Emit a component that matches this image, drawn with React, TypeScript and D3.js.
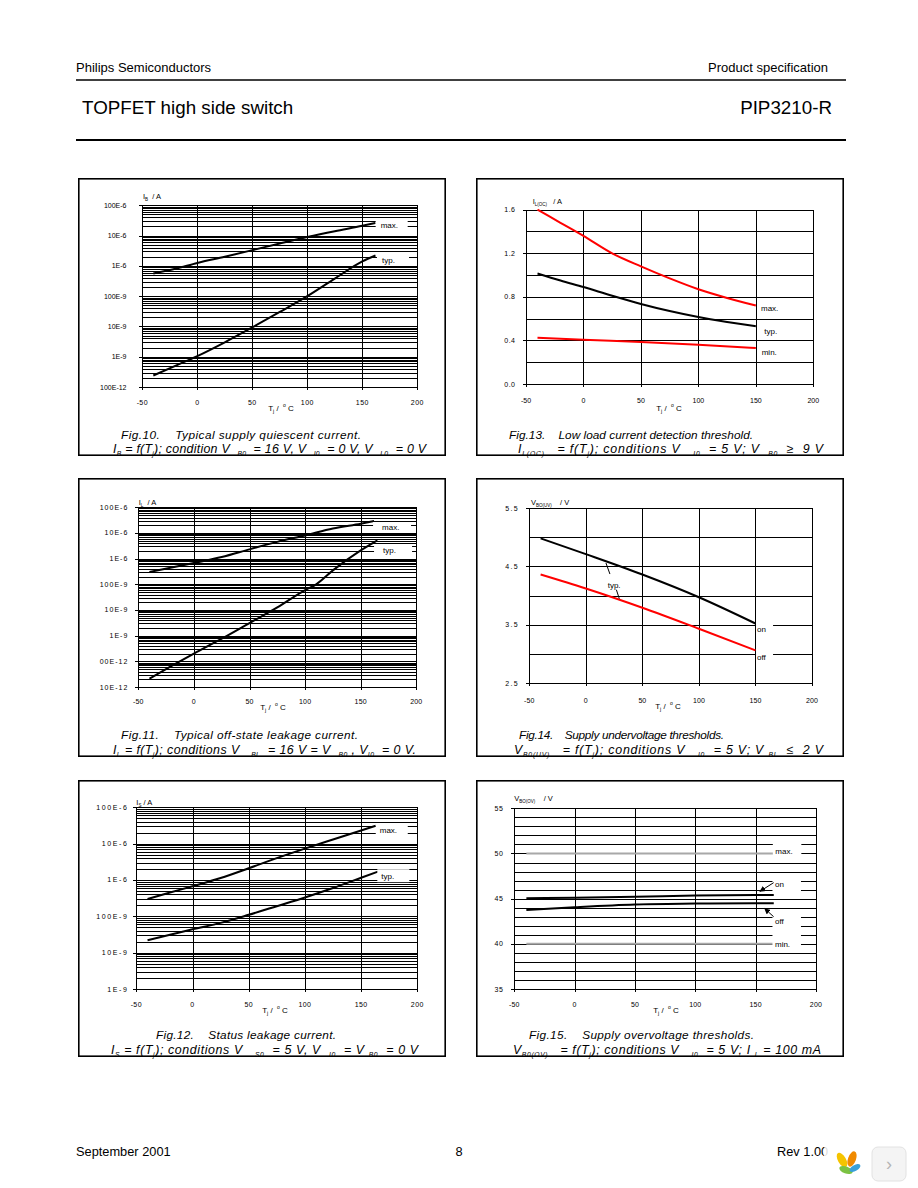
import React from "react";
import * as d3 from "d3";

const FONT = "'Liberation Sans', Arial, Helvetica, sans-serif";

// ---------- shared axis data ----------
const tempTicks = [-50, 0, 50, 100, 150, 200];
const tempTickLabels = ["-50", "0", "50", "100", "150", "200"];

// ---------- Fig.10 supply quiescent current ----------
const fig10Temp = [-40, -20, 0, 25, 50, 75, 100, 125, 150, 162];
const fig10Max = [5.6e-7, 8e-7, 1.25e-6, 2e-6, 3.3e-6, 5.5e-6, 9e-6, 1.4e-5, 2.1e-5, 2.6e-5];
const fig10Typ = [2.4e-10, 5e-10, 1.05e-9, 3e-9, 9.3e-9, 3e-8, 1e-7, 3.8e-7, 1.4e-6, 2.2e-6];
const fig10Decades = [1e-10, 1e-9, 1e-8, 1e-7, 1e-6, 1e-5, 1e-4];
const fig10DecadeLabels = ["100E-12", "1E-9", "10E-9", "100E-9", "1E-6", "10E-6", "100E-6"];

// ---------- Fig.11 off-state leakage current ----------
const fig11MaxTemp = [-40, -20, 0, 25, 50, 75, 100, 125, 150, 162];
const fig11Max = [3e-7, 4.5e-7, 6.8e-7, 1.15e-6, 2.3e-6, 4.5e-6, 8e-6, 1.5e-5, 2.3e-5, 2.9e-5];
const fig11TypTemp = [-40, -20, 0, 25, 50, 75, 100, 110, 125, 150, 165];
const fig11Typ = [2.1e-11, 6.6e-11, 2e-10, 7.6e-10, 3.1e-9, 1.26e-8, 6e-8, 1e-7, 3.5e-7, 2.1e-6, 5.2e-6];
const fig11Decades = [1e-11, 1e-10, 1e-9, 1e-8, 1e-7, 1e-6, 1e-5, 1e-4];
const fig11DecadeLabels = ["10E-12", "00E-12", "1E-9", "10E-9", "100E-9", "1E-6", "10E-6", "100E-6"];

// ---------- Fig.12 status leakage current ----------
const fig12MaxTemp = [-40, -20, 0, 25, 50, 75, 100, 125, 150, 163];
const fig12Max = [3e-7, 4.5e-7, 6.7e-7, 1.13e-6, 2.1e-6, 4e-6, 7.3e-6, 1.3e-5, 2.3e-5, 3.1e-5];
const fig12TypTemp = [-40, -20, 0, 25, 50, 75, 100, 125, 150, 165];
const fig12Typ = [2.2e-8, 3.1e-8, 4.4e-8, 6.6e-8, 1.1e-7, 1.9e-7, 3.3e-7, 6e-7, 1.15e-6, 1.7e-6];
const fig12Decades = [1e-9, 1e-8, 1e-7, 1e-6, 1e-5, 1e-4];
const fig12DecadeLabels = ["1E-9", "10E-9", "100E-9", "1E-6", "10E-6", "100E-6"];

// ---------- Fig.13 low load current detection threshold ----------
const fig13Temp = [-40, -20, 0, 25, 50, 75, 100, 125, 150];
const fig13Max = [1.6, 1.48, 1.36, 1.2, 1.08, 0.97, 0.87, 0.79, 0.72];
const fig13Typ = [1.015, 0.95, 0.89, 0.81, 0.735, 0.67, 0.615, 0.57, 0.53];
const fig13MinTemp = [-40, 0, 50, 100, 150];
const fig13Min = [0.425, 0.406, 0.385, 0.36, 0.33];
const fig13Grid = [0, 0.2, 0.4, 0.6, 0.8, 1.0, 1.2, 1.4, 1.6];
const fig13Ticks = [0, 0.4, 0.8, 1.2, 1.6];
const fig13TickLabels = ["0.0", "0.4", "0.8", "1.2", "1.6"];

// ---------- Fig.14 supply undervoltage thresholds ----------
const fig14Temp = [-40, 0, 50, 100, 150];
const fig14On = [4.98, 4.71, 4.36, 3.97, 3.52];
const fig14Off = [4.36, 4.12, 3.79, 3.43, 3.06];
const fig14Grid = [2.5, 3, 3.5, 4, 4.5, 5, 5.5];
const fig14Ticks = [2.5, 3.5, 4.5, 5.5];
const fig14TickLabels = ["2.5", "3.5", "4.5", "5.5"];

// ---------- Fig.15 supply overvoltage thresholds ----------
const fig15Temp = [-40, 0, 50, 100, 150, 165];
const fig15On = [45.05, 45.1, 45.2, 45.35, 45.4, 45.4];
const fig15Off = [43.75, 44.05, 44.35, 44.45, 44.5, 44.5];
const fig15LimTemp = [-40, 165];
const fig15Max = [50, 50];
const fig15Min = [40, 40];
const fig15Grid = d3.range(35, 56, 1);
const fig15Ticks = [35, 40, 45, 50, 55];
const fig15TickLabels = ["35", "40", "45", "50", "55"];

// ---------- helpers ----------
type Seg = { t: string; s?: "sub" | "sup" };

function logGrid(decades: number[]): number[] {
  const out: number[] = [];
  for (let i = 0; i < decades.length - 1; i++) {
    for (let k = 1; k <= 9; k++) out.push(k * decades[i]);
  }
  out.push(decades[decades.length - 1]);
  return out;
}

function segSpans(segs: Seg[], fs: number, subFs: number) {
  let shift = 0;
  return segs.map((s, i) => {
    const target = s.s === "sub" ? fs * 0.28 : s.s === "sup" ? -fs * 0.45 : 0;
    const dy = target - shift;
    shift = target;
    return (
      <tspan key={i} dy={dy} fontSize={s.s ? subFs : fs}>
        {s.t}
      </tspan>
    );
  });
}

function zip(t: number[], v: number[]): [number, number][] {
  return t.map((d, i) => [d, v[i]] as [number, number]);
}

interface Series { t: number[]; v: number[]; color: string; w: number }
interface Lbl { text: string; t: number; v: number; bx: number; bw: number; bh: number }
interface Lead { t1: number; v1: number; t2: number; v2: number; arrow?: boolean }
interface Cap { segs: Seg[]; x: number; y: number; len: number }

interface Cfg {
  box: [number, number, number, number];
  plot: { l: number; r: number; t: number; b: number };
  log: boolean;
  yDomain: [number, number];
  yGrid: number[];
  yTicks: number[];
  yTickLabels: string[];
  yLabelRight: number;
  yLs: number;
  xLs: number;
  xLabelY: number;
  series: Series[];
  labels: Lbl[];
  leads?: Lead[];
  yTitle: { segs: Seg[]; x: number; y: number };
  xTitle: { x: number; y: number };
  captions: Cap[];
}

const xTitleSegs: Seg[] = [
  { t: "T" },
  { t: "j", s: "sub" },
  { t: " /  " },
  { t: "o", s: "sup" },
  { t: " C" },
];

function Chart({ cfg }: { cfg: Cfg }) {
  const { plot } = cfg;
  const x = d3.scaleLinear().domain([-50, 200]).range([plot.l, plot.r]);
  const y = cfg.log
    ? d3.scaleLog().domain(cfg.yDomain).range([plot.b, plot.t])
    : d3.scaleLinear().domain(cfg.yDomain).range([plot.b, plot.t]);
  const line = d3
    .line<[number, number]>()
    .x((d) => x(d[0]))
    .y((d) => y(d[1]))
    .curve(d3.curveMonotoneX);
  const snap = (v: number) => Math.round(v) + 0.5;
  const [bx0, by0, bx1, by1] = cfg.box;
  return (
    <g>
      <rect x={bx0 + 0.8} y={by0 + 0.8} width={bx1 - bx0 - 1.6} height={by1 - by0 - 1.6} fill="#fff" stroke="#000" strokeWidth={1.6} />
      <g shapeRendering="crispEdges" stroke="#000" strokeWidth={1}>
        {cfg.yGrid.map((g, i) => (
          <line key={"h" + i} x1={plot.l} x2={plot.r} y1={snap(y(g))} y2={snap(y(g))} />
        ))}
        {tempTicks.map((t, i) => (
          <line key={"v" + i} x1={snap(x(t))} x2={snap(x(t))} y1={plot.t} y2={plot.b} />
        ))}
        {cfg.yTicks.map((g, i) => (
          <line key={"yt" + i} x1={plot.l - 3} x2={plot.l} y1={snap(y(g))} y2={snap(y(g))} />
        ))}
        {tempTicks.map((t, i) => (
          <line key={"xt" + i} x1={snap(x(t))} x2={snap(x(t))} y1={plot.b} y2={plot.b + 3} />
        ))}
      </g>
      <g fontFamily={FONT} fontSize={7} fill="#000">
        {cfg.yTicks.map((g, i) => (
          <text key={"yl" + i} x={cfg.yLabelRight} y={y(g) + 2.5} textAnchor="end" style={{ letterSpacing: cfg.yLs + "px" }}>
            {cfg.yTickLabels[i]}
          </text>
        ))}
        {tempTicks.map((t, i) => (
          <text key={"xl" + i} x={x(t)} y={cfg.xLabelY + 2.5} textAnchor="middle" style={{ letterSpacing: cfg.xLs + "px" }}>
            {tempTickLabels[i]}
          </text>
        ))}
      </g>
      {cfg.series.map((s, i) => (
        <path key={"s" + i} d={line(zip(s.t, s.v)) || ""} fill="none" stroke={s.color} strokeWidth={s.w} strokeLinejoin="round" />
      ))}
      {cfg.labels.map((l, i) => {
        const lx = x(l.t);
        const ly = y(l.v);
        return (
          <g key={"lb" + i}>
            <rect x={lx + l.bx} y={ly - l.bh / 2} width={l.bw} height={l.bh} fill="#fff" />
            <text x={lx} y={ly + 3} fontFamily={FONT} fontSize={8} fill="#000">
              {l.text}
            </text>
          </g>
        );
      })}
      {(cfg.leads || []).map((ld, i) => (
        <line key={"ld" + i} x1={x(ld.t1)} y1={y(ld.v1)} x2={x(ld.t2)} y2={y(ld.v2)} stroke="#000" strokeWidth={1} markerEnd={ld.arrow ? "url(#arrowHead)" : undefined} />
      ))}
      <text x={cfg.yTitle.x} y={cfg.yTitle.y} fontFamily={FONT} fill="#000" style={{ whiteSpace: "pre" }}>
        {segSpans(cfg.yTitle.segs, 7.5, 4.5)}
      </text>
      <text x={cfg.xTitle.x} y={cfg.xTitle.y + 3} fontFamily={FONT} fill="#000" textAnchor="middle" style={{ whiteSpace: "pre" }}>
        {segSpans(xTitleSegs, 8, 5)}
      </text>
      {cfg.captions.map((c, i) => (
        <text key={"c" + i} x={c.x} y={c.y} fontFamily={FONT} fontStyle="italic" fill="#000" textLength={c.len} lengthAdjust="spacing" style={{ whiteSpace: "pre" }}>
          {i === 0 ? segSpans(c.segs, 11.8, 6) : segSpans(c.segs, 12.4, 6.8)}
        </text>
      ))}
    </g>
  );
}

// ---------- chart configurations ----------
const charts: Cfg[] = [
  {
    box: [78, 178, 446, 456],
    plot: { l: 142.3, r: 417.3, t: 205.3, b: 387 },
    log: true,
    yDomain: [1e-10, 1e-4],
    yGrid: logGrid(fig10Decades),
    yTicks: fig10Decades,
    yTickLabels: fig10DecadeLabels,
    yLabelRight: 126.5,
    yLs: 0,
    xLs: 0.4,
    xLabelY: 402,
    series: [
      { t: fig10Temp, v: fig10Max, color: "#000", w: 2 },
      { t: fig10Temp, v: fig10Typ, color: "#000", w: 2 },
    ],
    labels: [
      { text: "max.", t: 166.7, v: 2.19e-5, bx: -5, bw: 32, bh: 11 },
      { text: "typ.", t: 167.9, v: 1.6e-6, bx: -5, bw: 32, bh: 11 },
    ],
    yTitle: { segs: [{ t: "I" }, { t: "B", s: "sub" }, { t: "  / A" }], x: 143, y: 199 },
    xTitle: { x: 281, y: 408 },
    captions: [
      { segs: [{ t: "Fig.10.    Typical supply quiescent current." }], x: 121, y: 439, len: 240 },
      {
        segs: [
          { t: "I" }, { t: "B", s: "sub" }, { t: " = f(T" }, { t: "j", s: "sub" },
          { t: "); condition V  " }, { t: "B0", s: "sub" }, { t: "  = 16 V, V  " }, { t: "I0", s: "sub" },
          { t: "  = 0 V, V  " }, { t: "L0", s: "sub" }, { t: "  = 0 V" },
        ],
        x: 113, y: 452.5, len: 313,
      },
    ],
  },
  {
    box: [476, 178, 844, 456],
    plot: { l: 526, r: 813.3, t: 209.7, b: 384 },
    log: false,
    yDomain: [0, 1.6],
    yGrid: fig13Grid,
    yTicks: fig13Ticks,
    yTickLabels: fig13TickLabels,
    yLabelRight: 515.5,
    yLs: 0.5,
    xLs: 0,
    xLabelY: 400.7,
    series: [
      { t: fig13Temp, v: fig13Max, color: "#ff0000", w: 2 },
      { t: fig13Temp, v: fig13Typ, color: "#000", w: 2 },
      { t: fig13MinTemp, v: fig13Min, color: "#ff0000", w: 2 },
    ],
    labels: [
      { text: "max.", t: 154.5, v: 0.698, bx: -1, bw: 20, bh: 7 },
      { text: "typ.", t: 157.4, v: 0.489, bx: -1, bw: 18, bh: 7 },
      { text: "min.", t: 155.1, v: 0.294, bx: -1, bw: 20, bh: 7 },
    ],
    yTitle: { segs: [{ t: "I" }, { t: "L(OC)", s: "sub" }, { t: "   / A" }], x: 532.7, y: 203.5 },
    xTitle: { x: 669, y: 408 },
    captions: [
      { segs: [{ t: "Fig.13.    Low load current detection threshold." }], x: 509, y: 439, len: 244 },
      {
        segs: [
          { t: "I" }, { t: "L(OC)", s: "sub" }, { t: "   = f(T" }, { t: "j", s: "sub" },
          { t: "); conditions V   " }, { t: "I0", s: "sub" }, { t: "  = 5 V; V  " }, { t: "B0", s: "sub" },
          { t: "  ≥  9 V" },
        ],
        x: 518, y: 452.5, len: 305,
      },
    ],
  },
  {
    box: [78, 478, 446, 757],
    plot: { l: 138.3, r: 416.3, t: 507.3, b: 687 },
    log: true,
    yDomain: [1e-11, 1e-4],
    yGrid: logGrid(fig11Decades),
    yTicks: fig11Decades,
    yTickLabels: fig11DecadeLabels,
    yLabelRight: 128.3,
    yLs: 1.0,
    xLs: 0.2,
    xLabelY: 701,
    series: [
      { t: fig11MaxTemp, v: fig11Max, color: "#000", w: 2 },
      { t: fig11TypTemp, v: fig11Typ, color: "#000", w: 2 },
    ],
    labels: [
      { text: "max.", t: 169.2, v: 1.71e-5, bx: -9, bw: 38, bh: 10 },
      { text: "typ.", t: 170.1, v: 2.23e-6, bx: -9, bw: 38, bh: 10 },
    ],
    yTitle: { segs: [{ t: "I" }, { t: "L", s: "sub" }, { t: "  / A" }], x: 138.7, y: 504.5 },
    xTitle: { x: 273, y: 707 },
    captions: [
      { segs: [{ t: "Fig.11.    Typical off-state leakage current." }], x: 121, y: 739, len: 237 },
      {
        segs: [
          { t: "I" }, { t: "L", s: "sub" }, { t: " = f(T" }, { t: "j", s: "sub" },
          { t: "); conditions V   " }, { t: "BL", s: "sub" }, { t: "  = 16 V = V  " }, { t: "B0", s: "sub" },
          { t: " , V" }, { t: "I0", s: "sub" }, { t: "  = 0 V." },
        ],
        x: 113, y: 753.7, len: 303,
      },
    ],
  },
  {
    box: [476, 478, 844, 757],
    plot: { l: 529.3, r: 812, t: 508, b: 683 },
    log: false,
    yDomain: [2.5, 5.5],
    yGrid: fig14Grid,
    yTicks: fig14Ticks,
    yTickLabels: fig14TickLabels,
    yLabelRight: 519,
    yLs: 1.3,
    xLs: 0.1,
    xLabelY: 700,
    series: [
      { t: fig14Temp, v: fig14On, color: "#000", w: 2 },
      { t: fig14Temp, v: fig14Off, color: "#ff0000", w: 2 },
    ],
    labels: [
      { text: "on", t: 151.4, v: 3.431, bx: -1, bw: 17, bh: 9 },
      { text: "off", t: 151.4, v: 2.946, bx: -1, bw: 17, bh: 9 },
      { text: "typ.", t: 19.3, v: 4.18, bx: 0, bw: 0, bh: 0 },
    ],
    leads: [
      { t1: 17.8, v1: 4.557, t2: 21.3, v2: 4.368 },
      { t1: 27.0, v1: 4.099, t2: 29.6, v2: 3.945 },
    ],
    yTitle: { segs: [{ t: "V" }, { t: "BO(UV)", s: "sub" }, { t: "    / V" }], x: 531, y: 505 },
    xTitle: { x: 668, y: 706 },
    captions: [
      { segs: [{ t: "Fig.14.    Supply undervoltage thresholds." }], x: 519, y: 739, len: 205 },
      {
        segs: [
          { t: "V" }, { t: "B0(UV)", s: "sub" }, { t: "   = f(T" }, { t: "j", s: "sub" },
          { t: "); conditions V   " }, { t: "I0", s: "sub" }, { t: "  = 5 V; V " }, { t: "BL", s: "sub" },
          { t: "  ≤  2 V" },
        ],
        x: 514, y: 753.7, len: 309,
      },
    ],
  },
  {
    box: [78, 780, 446, 1057],
    plot: { l: 136.3, r: 417.3, t: 807.3, b: 989 },
    log: true,
    yDomain: [1e-9, 1e-4],
    yGrid: logGrid(fig12Decades),
    yTicks: fig12Decades,
    yLabelRight: 128.5,
    yTickLabels: fig12DecadeLabels,
    yLs: 1.6,
    xLs: 0.4,
    xLabelY: 1004,
    series: [
      { t: fig12MaxTemp, v: fig12Max, color: "#000", w: 2 },
      { t: fig12TypTemp, v: fig12Typ, color: "#000", w: 2 },
    ],
    labels: [
      { text: "max.", t: 166.6, v: 2.37e-5, bx: -4, bw: 32, bh: 13 },
      { text: "typ.", t: 168.0, v: 1.31e-6, bx: -4, bw: 32, bh: 13 },
    ],
    yTitle: { segs: [{ t: "I" }, { t: "S", s: "sub" }, { t: " / A" }], x: 136.3, y: 805 },
    xTitle: { x: 275, y: 1010 },
    captions: [
      { segs: [{ t: "Fig.12.    Status leakage current." }], x: 156, y: 1039, len: 180 },
      {
        segs: [
          { t: "I" }, { t: "S", s: "sub" }, { t: " = f(T" }, { t: "j", s: "sub" },
          { t: "); conditions V   " }, { t: "S0", s: "sub" }, { t: "  = 5 V, V  " }, { t: "I0", s: "sub" },
          { t: "  = V " }, { t: "B0", s: "sub" }, { t: "  = 0 V" },
        ],
        x: 111, y: 1054, len: 307,
      },
    ],
  },
  {
    box: [476, 780, 844, 1057],
    plot: { l: 514.3, r: 816, t: 808.3, b: 989 },
    log: false,
    yDomain: [35, 55],
    yGrid: fig15Grid,
    yTicks: fig15Ticks,
    yTickLabels: fig15TickLabels,
    yLabelRight: 503.5,
    yLs: 0.6,
    xLs: 0.2,
    xLabelY: 1004,
    series: [
      { t: fig15LimTemp, v: fig15Max, color: "#a8a8a8", w: 2 },
      { t: fig15LimTemp, v: fig15Min, color: "#a8a8a8", w: 2 },
      { t: fig15Temp, v: fig15On, color: "#000", w: 2 },
      { t: fig15Temp, v: fig15Off, color: "#000", w: 2 },
    ],
    labels: [
      { text: "max.", t: 166.3, v: 50.27, bx: -2.5, bw: 28.5, bh: 18 },
      { text: "on", t: 166.0, v: 46.62, bx: -2.5, bw: 28.5, bh: 18 },
      { text: "off", t: 166.0, v: 42.49, bx: -2.5, bw: 28.5, bh: 18 },
      { text: "min.", t: 166.0, v: 39.98, bx: -2.5, bw: 28.5, bh: 18 },
    ],
    leads: [
      { t1: 164.9, v1: 46.77, t2: 153.5, v2: 45.8, arrow: true },
      { t1: 164.9, v1: 43.0, t2: 157.5, v2: 43.9, arrow: true },
    ],
    yTitle: { segs: [{ t: "V" }, { t: "BO(OV)", s: "sub" }, { t: "    / V" }], x: 514.3, y: 801 },
    xTitle: { x: 666, y: 1010 },
    captions: [
      { segs: [{ t: "Fig.15.    Supply overvoltage thresholds." }], x: 529, y: 1039, len: 225 },
      {
        segs: [
          { t: "V" }, { t: "B0(OV)", s: "sub" }, { t: "   = f(T" }, { t: "j", s: "sub" },
          { t: "); conditions V   " }, { t: "I0", s: "sub" }, { t: "  = 5 V; I " }, { t: "L", s: "sub" },
          { t: " = 100 mA" },
        ],
        x: 513, y: 1054, len: 308,
      },
    ],
  },
];

export default function App() {
  return (
    <svg width={918} height={1188} viewBox="0 0 918 1188" style={{ position: "absolute", left: 0, top: 0, background: "#fff" }}>
      <defs>
        <marker id="arrowHead" viewBox="0 0 10 10" refX="9" refY="5" markerWidth="6" markerHeight="6" orient="auto-start-reverse">
          <path d="M0,0 L10,5 L0,10 z" fill="#000" />
        </marker>
      </defs>
      <rect x={0} y={0} width={918} height={1188} fill="#fff" />
      {/* header */}
      <g fontFamily={FONT} fill="#000">
        <text x={76} y={71.5} fontSize={13}>Philips Semiconductors</text>
        <text x={828} y={71.5} fontSize={13} textAnchor="end">Product specification</text>
        <text x={82} y={113.5} fontSize={18.8}>TOPFET high side switch</text>
        <text x={832} y={113.5} fontSize={18.8} textAnchor="end">PIP3210-R</text>
      </g>
      <line x1={76} x2={846} y1={80} y2={80} stroke="#000" strokeWidth={1.5} />
      <line x1={76} x2={846} y1={140} y2={140} stroke="#000" strokeWidth={2} />
      {charts.map((c, i) => (
        <Chart key={i} cfg={c} />
      ))}
      {/* footer */}
      <g fontFamily={FONT} fill="#000" fontSize={12.8}>
        <text x={76} y={1156}>September 2001</text>
        <text x={459} y={1156} textAnchor="middle">8</text>
        <text x={777} y={1156}>Rev 1.00</text>
      </g>
      {/* viewer overlay widget */}
      <g>
        <rect x={824} y={1143} width={42} height={42} rx={6} fill="#fff" opacity={0.85} />
        <ellipse cx={842} cy={1160} rx={4} ry={8} fill="#f5c400" transform="rotate(-30 842 1160)" />
        <ellipse cx={852} cy={1159} rx={4} ry={8} fill="#f08a00" transform="rotate(20 852 1159)" />
        <ellipse cx={846} cy={1170} rx={3.5} ry={7} fill="#7cc242" transform="rotate(-70 846 1170)" />
        <ellipse cx={855} cy={1168} rx={3} ry={6} fill="#3aa0d8" transform="rotate(60 855 1168)" />
        <rect x={872} y={1147} width={34} height={34} rx={6} fill="#f4f4f4" stroke="#e2e2e2" />
        <text x={889} y={1170} fontFamily={FONT} fontSize={18} fill="#b5b5b5" textAnchor="middle">›</text>
      </g>
    </svg>
  );
}
